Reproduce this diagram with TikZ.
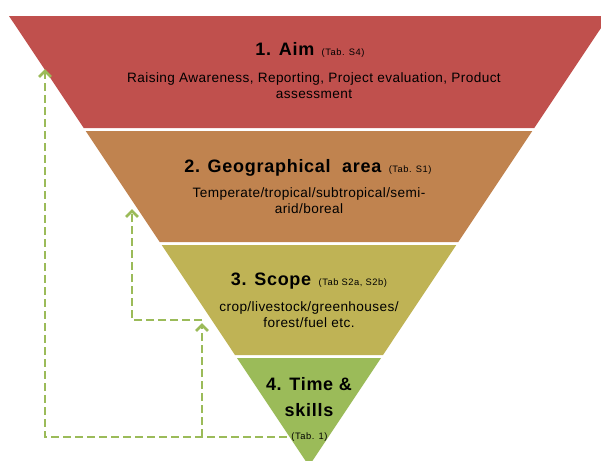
\documentclass[tikz,border=0pt]{standalone}
\usepackage{fontspec}
\setmainfont{Liberation Sans}
\usetikzlibrary{arrows.meta}

\definecolor{aimred}{HTML}{C0504D}
\definecolor{geobrown}{HTML}{C0834F}
\definecolor{scopeolive}{HTML}{BFB355}
\definecolor{timegreen}{HTML}{9BBB59}

\newcommand{\ttl}[1]{{\fontsize{13.5}{15}\selectfont\addfontfeature{LetterSpace=4}\bfseries #1}}
\newcommand{\tabref}[1]{{\fontsize{7}{8}\selectfont\addfontfeature{LetterSpace=6}#1}}

\tikzset{
  bodytext/.style={align=center,
    font=\fontsize{10.2}{12.2}\selectfont\addfontfeature{LetterSpace=3}},
  feedback/.style={timegreen, line width=2pt, dash pattern=on 6pt off 3pt,
    -{Straight Barb[length=4.5pt,width=9pt]}}
}

\begin{document}
\begin{tikzpicture}[x=0.75pt,y=-0.75pt]
  \useasboundingbox (0,0) rectangle (601,461);
  \clip (0,0) rectangle (601,461);

  %% layers
  \fill[aimred] (9,16) -- (609,16) -- (534.3,128) -- (83.7,128) -- cycle;
  \fill[geobrown] (85.7,131) -- (532.3,131) -- (458.3,242) -- (159.7,242) -- cycle;
  \fill[scopeolive] (161.7,245) -- (456.3,245) -- (383,355) -- (235,355) -- cycle;
  \fill[timegreen] (237,358) -- (381,358) -- (309,466) -- cycle;

  %% Aim
  \node (aim) at (310,50) {\ttl{1. Aim}\ \ \tabref{(Tab. S4)}};
  \node[bodytext] (aimtxt) at (314,86)
    {Raising Awareness, Reporting, Project evaluation, Product\\assessment};

  %% Geographical area
  \node (geo) at (308,168) {\ttl{2. Geographical\ \ area}\ \ \tabref{(Tab. S1)}};
  \node[bodytext] (geotxt) at (309,200.5)
    {Temperate/tropical/subtropical/semi-\\arid/boreal};

  %% Scope
  \node (scope) at (309,281) {\ttl{3. Scope}\ \ \tabref{(Tab S2a, S2b)}};
  \node[bodytext] (scopetxt) at (309,315)
    {crop/livestock/greenhouses/\\forest/fuel etc.};

  %% Time & skills
  \node[align=center] (time) at (309,397)
    {\ttl{4. Time \&}\\[7pt]\ttl{skills}};
  \node (tab1) at (309.5,437) {\tabref{(Tab. 1)}};

  %% feedback
  \coordinate (aimin) at (45,69);
  \coordinate (split) at (202,437);
  \coordinate (scopein) at (202,323);
  \coordinate (scopeturn) at (202,320);
  \coordinate (geoin) at (132,209);

  \draw[feedback] (tab1.west) -| (aimin);
  \draw[feedback] (split) -- (scopein);
  \draw[feedback] (scopeturn) -| (geoin);

\end{tikzpicture}
\end{document}
